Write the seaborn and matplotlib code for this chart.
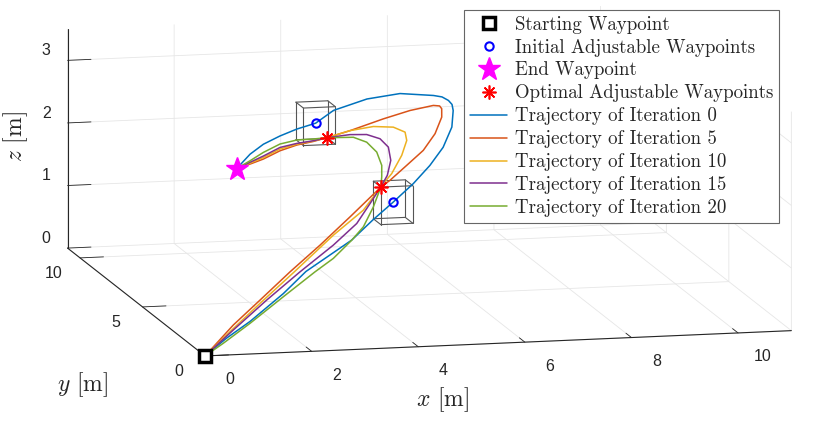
import matplotlib
matplotlib.use('Agg')
import matplotlib.pyplot as plt
import seaborn as sns
from mpl_toolkits.mplot3d import proj3d

sns.set_theme(style='white')
plt.rcParams['font.family'] = ['Liberation Sans', 'DejaVu Sans']
plt.rcParams['mathtext.fontset'] = 'cm'
plt.rcParams['grid.color'] = '#e6e6e6'
plt.rcParams['grid.linewidth'] = 0.6

# waypoints [m]
start_wp = [0.0, 0.0, 0.0]
end_wp = [2.94, 10.0, 1.32]
init_x = [4.70, 4.42]
init_y = [5.00, 10.00]
init_z = [1.50, 1.99]
opt_x = [4.40, 4.56]
opt_y = [4.70, 9.70]
opt_z = [1.80, 1.80]
box_half = 0.3

x_ticks = [0, 2, 4, 6, 8, 10]
y_ticks = [0, 5, 10]
z_ticks = [0, 1, 2, 3]

# trajectories (start -> wp2 -> wp1 -> end)
it0_x = [0, 0.53, 1.10, 1.94, 2.53, 3.63, 4.18, 4.70, 5.20, 5.62, 5.97, 6.23, 6.33, 6.334,
         6.29, 6.205, 6.08, 5.60, 5.13, 4.66, 4.42, 4.07, 3.75, 3.44, 3.19, 2.94]
it0_y = [0, 0.54, 1.09, 2.01, 2.72, 3.75, 4.40, 5.00, 5.51, 5.98, 6.41, 6.82, 7.14, 7.25,
         7.35, 7.50, 7.65, 8.28, 8.92, 9.59, 10, 10, 10, 10, 10, 10]
it0_z = [0, 0.18, 0.34, 0.61, 0.83, 1.13, 1.33, 1.50, 1.70, 1.90, 2.11, 2.36, 2.57, 2.650,
         2.70, 2.736, 2.74, 2.69, 2.52, 2.25, 1.99, 1.91, 1.81, 1.69, 1.54, 1.32]

it5_x = [0, 0.733, 1.397, 2.144, 2.880, 3.627, 4.40, 4.636, 5.067, 5.495, 5.821, 6.040, 6.084,
         6.068, 5.974, 5.664, 5.308, 4.869, 4.56, 4.330, 4.019, 3.705, 3.392, 3.143, 2.94]
it5_y = [0, 0.861, 1.555, 2.340, 3.081, 3.867, 4.70, 4.97, 5.47, 5.97, 6.42, 6.82, 7.01,
         7.11, 7.21, 7.75, 8.37, 9.16, 9.70, 9.8, 9.8, 9.8, 9.8, 9.8, 10.0]
it5_z = [0, 0.333, 0.598, 0.899, 1.182, 1.483, 1.80, 1.858, 2.003, 2.148, 2.332, 2.526, 2.629,
         2.658, 2.654, 2.500, 2.282, 1.986, 1.80, 1.733, 1.687, 1.607, 1.486, 1.415, 1.32]

it10_x = [0, 0.627, 1.375, 2.224, 3.195, 3.920, 4.40, 4.485, 4.750, 5.109, 5.332, 5.371, 5.254,
          5.041, 4.798, 4.56, 4.330, 4.019, 3.705, 3.392, 3.143, 2.94]
it10_y = [0, 0.675, 1.463, 2.340, 3.359, 4.053, 4.70, 4.86, 5.32, 6.05, 6.60, 6.90, 7.34,
          8.03, 8.86, 9.70, 9.8, 9.8, 9.8, 9.8, 9.8, 10.0]
it10_z = [0, 0.259, 0.561, 0.896, 1.286, 1.550, 1.80, 1.828, 1.906, 2.070, 2.214, 2.298, 2.313,
          2.223, 2.036, 1.80, 1.740, 1.700, 1.635, 1.510, 1.430, 1.32]

it15_x = [0, 0.700, 1.522, 2.331, 3.129, 3.710, 4.090, 4.40, 4.483, 4.670, 4.901, 5.001, 4.974,
          4.874, 4.742, 4.56, 4.330, 4.019, 3.705, 3.392, 3.143, 2.94]
it15_y = [0, 0.722, 1.555, 2.340, 3.081, 3.684, 4.239, 4.70, 4.90, 5.33, 6.04, 6.66, 7.21,
          7.85, 8.62, 9.70, 9.8, 9.8, 9.8, 9.8, 9.8, 10.0]
it15_z = [0, 0.276, 0.594, 0.892, 1.173, 1.403, 1.621, 1.80, 1.822, 1.880, 1.999, 2.110, 2.158,
          2.129, 2.012, 1.80, 1.744, 1.713, 1.660, 1.534, 1.444, 1.32]

it20_x = [0, 0.426, 1.057, 1.855, 2.613, 3.043, 3.508, 3.812, 4.130, 4.40, 4.546, 4.699, 4.788,
          4.780, 4.715, 4.56, 4.330, 4.019, 3.705, 3.392, 3.143, 2.94]
it20_y = [0, 0.353, 0.908, 1.646, 2.340, 2.712, 3.220, 3.590, 4.145, 4.70, 5.25, 5.90, 6.68,
          7.45, 8.24, 9.70, 9.8, 9.8, 9.8, 9.8, 9.8, 10.0]
it20_z = [0, 0.132, 0.340, 0.620, 0.882, 1.022, 1.217, 1.360, 1.580, 1.80, 1.870, 1.948, 2.035,
          2.073, 2.030, 1.80, 1.772, 1.767, 1.715, 1.592, 1.468, 1.32]

iterations = [0, 5, 10, 15, 20]
traj = [(it0_x, it0_y, it0_z), (it5_x, it5_y, it5_z), (it10_x, it10_y, it10_z),
        (it15_x, it15_y, it15_z), (it20_x, it20_y, it20_z)]
colors = ['#0072BD', '#D95319', '#EDB120', '#7E2F8E', '#77AC30']

fig = plt.figure(figsize=(8.3, 4.21), dpi=100)
# square 3D axes, larger than the figure so the box fills it
side = 854.6
ax = fig.add_axes([(417.9 - side / 2) / 830, (229.6 - side / 2) / 421, side / 830, side / 421],
                  projection='3d', proj_type='ortho')
ax.computed_zorder = False
ax.view_init(elev=10.6, azim=-103.2)
ax.set_box_aspect((11, 11, 4.07), zoom=1.0)

# markers first in legend order
ax.plot([start_wp[0]], [start_wp[1]], [start_wp[2]], ls='none', marker='s', ms=8,
        mfc='white', mec='black', mew=2.5, zorder=6, label='Starting Waypoint')
ax.plot(init_x, init_y, init_z, ls='none', marker='o', ms=6, mfc='none', mec='blue',
        mew=1.5, zorder=6, label='Initial Adjustable Waypoints')
ax.plot([end_wp[0]], [end_wp[1]], [end_wp[2]], ls='none', marker='*', ms=17,
        color='magenta', zorder=6, label='End Waypoint')
ax.plot(opt_x, opt_y, opt_z, ls='none', marker=(8, 2, 0), ms=10, mec='red', mew=1.2,
        zorder=7, label='Optimal Adjustable Waypoints')

for it, (tx, ty, tz), c in zip(iterations, traj, colors):
    ax.plot(tx, ty, tz, color=c, lw=1.1, zorder=3, label=f'Trajectory of Iteration {it}')

# boxes around the initial waypoints
for cx, cy, cz in zip(init_x, init_y, init_z):
    xs = [cx - box_half, cx + box_half]
    ys = [cy - box_half, cy + box_half]
    zs = [cz - box_half, cz + box_half]
    for a in ys:
        for b in zs:
            ax.plot(xs, [a, a], [b, b], color='#555555', lw=0.8, zorder=2)
    for a in xs:
        for b in zs:
            ax.plot([a, a], ys, [b, b], color='#555555', lw=0.8, zorder=2)
    for a in xs:
        for b in ys:
            ax.plot([a, a], [b, b], zs, color='#555555', lw=0.8, zorder=2)

ax.set_xlim(0, 11)
ax.set_ylim(0, 11)
ax.set_zlim(0, 3.5)
ax.set_xticks(x_ticks)
ax.set_yticks(y_ticks)
ax.set_zticks(z_ticks)
# built-in labels hidden (drawn below as texts)
ax.tick_params(axis='both', labelbottom=False, labelleft=False)

for axis in (ax.xaxis, ax.yaxis, ax.zaxis):
    axis.set_pane_color((1, 1, 1, 1))
    axis.pane.set_edgecolor('none')
    axis.line.set_color('#262626')
    axis.line.set_linewidth(0.8)
    axis._axinfo['tick']['inward_factor'] = 0.0
    axis._axinfo['tick']['outward_factor'] = 0.5
    axis._axinfo['tick']['color'] = '#262626'
    axis._axinfo['tick']['linewidth'] = {True: 0.6, False: 0.5}

# tick labels placed like MATLAB's, projected to the 2D plane of the axes
M = ax.get_proj()
tick_kw = dict(fontsize=11.5, color='#262626', ha='center', va='center',
               transform=ax.transData)


def tick_label(x, y, z, s):
    px, py, _ = proj3d.proj_transform(x, y, z, M)
    ax.text2D(px, py, s, **tick_kw)


for v in x_ticks:
    tick_label(v, -2.0, -0.07, str(v))
for v in y_ticks:
    tick_label(-0.5, v, -0.235, str(v))
for v in z_ticks:
    tick_label(0, 12.7, v - 0.11, str(v))

leg = ax.legend(loc='upper right', bbox_to_anchor=(779 / 830, 1 - 10 / 421),
                bbox_transform=fig.transFigure, borderaxespad=0, fancybox=False,
                framealpha=1, edgecolor='#666666', prop={'family': 'cmr10', 'size': 13.6},
                handlelength=2.0, labelspacing=0.26, borderpad=0.3, handletextpad=0.4)
leg.get_frame().set_linewidth(0.8)

fig.text(443 / 830, 1 - 400 / 421, r'$x$ [m]', fontsize=17, family='cmr10', ha='center', va='center')
fig.text(83 / 830, 1 - 385 / 421, r'$y$ [m]', fontsize=17, family='cmr10', ha='center', va='center')
fig.text(16 / 830, 1 - 137 / 421, r'$z$ [m]', fontsize=17, family='cmr10', ha='center',
         va='center', rotation=90)

fig.savefig('out.png', dpi=100)
